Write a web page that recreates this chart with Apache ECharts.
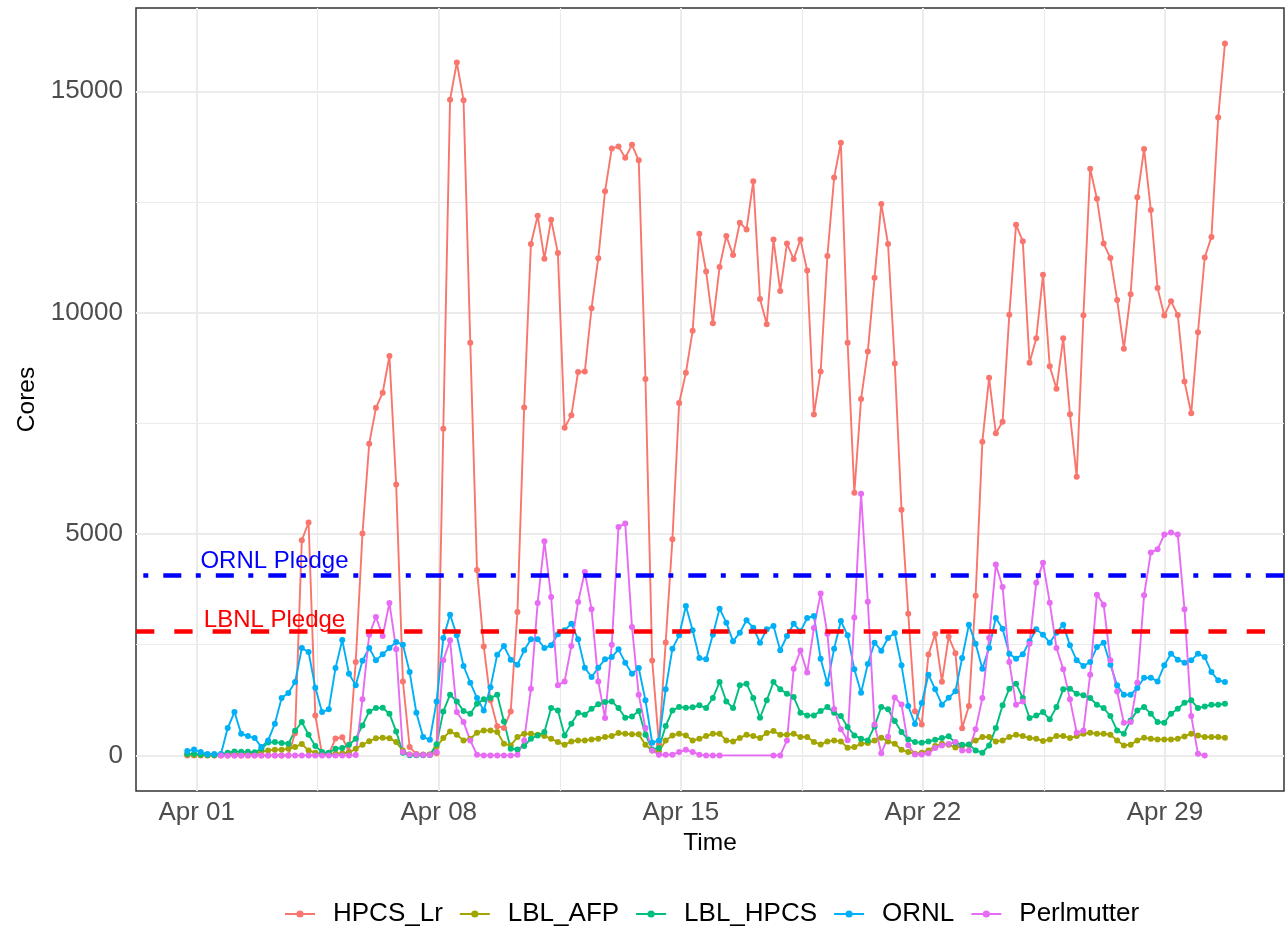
<!DOCTYPE html>
<html>
<head>
<meta charset="utf-8">
<script src="https://cdn.jsdelivr.net/npm/echarts@6/dist/echarts.min.js"></script>
<style>
html,body{margin:0;padding:0;background:#fff;}
#chart{width:1286px;height:927px;}
</style>
</head>
<body>
<div id="chart"></div>
<script>
// ---- time grid (days since Apr 01 00:00) ----
const startDay = -0.272;
const stepDay = 0.19485;

// ---- tick labels ----
const xTickDays = [0, 7, 14, 21, 28];
const xTickLabels = ['Apr 01', 'Apr 08', 'Apr 15', 'Apr 22', 'Apr 29'];
const yTicks = [0, 5000, 10000, 15000];
const xMinorDays = [3.5, 10.5, 17.5, 24.5];
const yMinor = [2500, 7500, 12500];

// ---- pledges ----
const ornlPledge = 4080;
const lbnlPledge = 2800;

// ---- series values ----
const HPCS_Lr = [0,0,0,0,0,0,0,0,0,0,0,0,0,0,0,0,
500,4860,5260,904,30,30,380,410,80,2110,5010,7040,7850,8190,9020,6120,1670,190,30,20,20,50,
7380,14810,15650,14800,9320,4190,2460,1245,660,620,994,3240,7860,11550,12190,11220,12100,11350,
7400,7680,8660,8670,10100,11230,12740,13710,13750,13500,13790,13440,8500,2145,250,2550,4880,
7960,8640,9590,11780,10930,9760,11030,11730,11300,12030,11880,12970,10310,9740,11650,10490,
11560,11210,11650,10950,7700,8670,11280,13050,13840,9320,5930,8050,9125,10790,12455,11550,
8850,5550,3200,1000,700,2280,2740,1665,2680,2310,616,1114,3605,7087,8529,7276,7534,9950,
11988,11610,8866,9423,10854,8787,8280,9423,7703,6292,9940,13250,12574,11560,11232,10288,
9185,10417,12604,13697,12320,10556,9935,10259,9947,8443,7727,9557,11245,11711,14408,16080];

const LBL_AFP = [20,10,10,5,5,10,20,30,30,40,40,80,110,130,130,150,190,256,113,60,30,30,40,50,60,
150,240,320,385,400,390,300,110,20,15,15,20,200,392,542,467,339,377,512,565,565,527,264,226,
414,490,490,467,437,377,301,241,316,339,339,362,377,414,437,505,490,475,475,241,113,90,339,
452,490,452,339,377,437,490,490,339,316,392,467,437,392,505,550,467,467,490,414,414,301,249,
316,339,316,173,188,264,279,339,400,316,264,128,75,38,60,113,211,264,241,180,211,241,339,414,
414,316,339,414,467,437,392,377,324,362,437,437,392,437,490,512,490,490,467,339,226,241,339,
400,377,362,362,362,377,429,490,452,414,414,414,400];

const LBL_HPCS = [30,40,20,10,10,20,60,90,80,80,70,150,290,300,280,264,557,753,467,211,75,60,151,
166,241,377,678,994,1070,1077,942,542,60,5,5,5,10,250,994,1371,1220,1002,942,1168,1266,1296,
1371,768,151,136,211,377,452,527,1070,1017,452,716,964,919,1055,1153,1205,1220,1070,851,881,
1002,467,136,166,663,1017,1092,1077,1085,1130,1070,1296,1657,1220,1070,1582,1620,1296,851,
1243,1657,1492,1394,1318,964,904,904,1002,1092,964,889,640,452,377,339,655,1092,1040,776,527,
362,301,286,316,354,392,430,286,241,249,113,60,226,618,1130,1507,1620,1296,844,904,979,814,
1092,1492,1507,1394,1356,1296,1145,1070,889,565,490,791,1017,1092,942,753,738,942,1055,1190,
1243,1070,1107,1145,1145,1168];

const ORNL = [98,135,75,30,30,30,618,979,490,437,392,188,339,716,1296,1409,1657,2426,2335,1529,
979,1040,1974,2606,1846,1582,2139,2426,2147,2283,2426,2561,2501,1883,964,414,354,1220,2650,
3179,2712,2019,1642,1296,1017,1537,2275,2471,2162,2049,2373,2621,2621,2426,2486,2734,2825,
2975,2621,1981,1770,1981,2170,2222,2396,2094,1846,1974,1243,286,339,1492,2411,2712,3375,2825,
2200,2170,2727,3315,2998,2576,2772,3051,2885,2546,2847,2923,2373,2697,2975,2802,3104,3149,
2185,1620,2411,3036,2712,1944,1416,2064,2546,2365,2652,2765,2034,1115,708,1183,1823,1492,1145,
1300,1450,2200,2953,2524,1959,2426,3104,2863,2298,2185,2283,2576,2848,2727,2546,2772,2953,
2486,2147,2019,2109,2448,2546,2049,1582,1371,1371,1522,1755,1755,1672,2034,2298,2162,2094,
2147,2298,2222,1883,1695,1657];

const Perlmutter = [null,null,null,null,null,0,0,0,0,0,0,0,0,0,0,0,0,0,0,0,0,0,0,0,0,10,1266,2727,
3126,2697,3443,2396,75,20,15,10,10,75,2147,2599,979,753,339,15,0,0,0,0,0,15,339,1507,3443,4836,
3578,1582,1672,2471,3465,4143,3299,1672,844,2501,5160,5235,2900,1371,618,113,15,15,15,75,128,
75,15,0,0,0,null,null,null,null,null,null,null,0,0,339,1955,2370,1870,2880,3655,2750,1050,590,
345,3115,5910,3470,696,50,420,1305,1150,230,20,20,50,169,226,260,300,113,113,588,1296,2652,
4309,3804,2109,1145,1220,2524,3902,4354,3450,2426,1944,1266,512,565,1823,3631,3405,2147,1446,
738,753,1642,3616,4580,4655,4987,5032,4987,3299,889,38,0,null,null,null];

const seriesNames = ['HPCS_Lr', 'LBL_AFP', 'LBL_HPCS', 'ORNL', 'Perlmutter'];
const seriesValues = [HPCS_Lr, LBL_AFP, LBL_HPCS, ORNL, Perlmutter];
const seriesColors = ['#F8766D', '#A3A500', '#00BF7D', '#00B0F6', '#E76BF3'];

const times = HPCS_Lr.map((_, i) => +(startDay + i * stepDay).toFixed(5));

const FONT = '"Liberation Sans", Arial, Helvetica, sans-serif';

function dayLabel(v) {
  const idx = xTickDays.indexOf(Math.round(v));
  return idx >= 0 ? xTickLabels[idx] : '';
}

const dataSeries = seriesNames.map((name, k) => ({
  name: name,
  type: 'line',
  data: times.map((t, i) => [t, seriesValues[k][i]]),
  connectNulls: true,
  symbol: 'circle',
  symbolSize: 6,
  showAllSymbol: true,
  color: seriesColors[k],
  lineStyle: { width: 1.9, color: seriesColors[k] },
  itemStyle: { color: seriesColors[k] },
  emphasis: { disabled: true },
  animation: false,
  z: 2
}));

const gridLineSeries = {
  name: '_grid',
  type: 'line',
  data: [],
  silent: true,
  z: 1,
  markLine: {
    silent: true,
    symbol: 'none',
    animation: false,
    z: 1,
    label: { show: false },
    emphasis: { disabled: true },
    data: [
      ...xMinorDays.map(v => ({ xAxis: v, lineStyle: { color: '#EBEBEB', width: 1.2, type: 'solid' } })),
      ...yMinor.map(v => ({ yAxis: v, lineStyle: { color: '#EBEBEB', width: 1.2, type: 'solid' } })),
      ...xTickDays.map(v => ({ xAxis: v, lineStyle: { color: '#EBEBEB', width: 2, type: 'solid' } })),
      ...yTicks.map(v => ({ yAxis: v, lineStyle: { color: '#EBEBEB', width: 2, type: 'solid' } }))
    ]
  }
};

const pledgeSeries = {
  name: '_pledge',
  type: 'line',
  data: [],
  silent: true,
  z: 5,
  markLine: {
    silent: true,
    symbol: 'none',
    animation: false,
    z: 5,
    label: { show: false },
    emphasis: { disabled: true },
    data: [
      { yAxis: ornlPledge, lineStyle: { color: '#0000FF', width: 4.7, type: [5, 15, 18, 14.5], dashOffset: 45.2, cap: 'butt' } },
      { yAxis: lbnlPledge, lineStyle: { color: '#FF0000', width: 4.7, type: [18.3, 20], dashOffset: 0, cap: 'butt' } }
    ]
  },
  markPoint: {
    silent: true,
    animation: false,
    z: 6,
    symbol: 'circle',
    symbolSize: 0,
    data: [
      { coord: [2.25, 4380], label: { show: true, position: 'inside', formatter: 'ORNL Pledge', color: '#0000FF', fontSize: 24, fontFamily: FONT } },
      { coord: [2.25, 3060], label: { show: true, position: 'inside', formatter: 'LBNL Pledge', color: '#FF0000', fontSize: 24, fontFamily: FONT } }
    ]
  }
};

const option = {
  backgroundColor: '#ffffff',
  animation: false,
  textStyle: { fontFamily: FONT },
  grid: {
    left: 136, right: 2, top: 8, bottom: 136,
    show: true, borderColor: '#333333', borderWidth: 1.5, backgroundColor: '#ffffff'
  },
  legend: {
    data: seriesNames,
    left: 279,
    top: 896,
    itemWidth: 30,
    itemHeight: 9,
    itemGap: 16,
    textStyle: { fontSize: 26, color: '#000', fontFamily: FONT, padding: [0, 0, 0, 13] },
    selectedMode: false
  },
  xAxis: {
    type: 'value',
    min: -1.755,
    max: 31.443,
    name: 'Time',
    nameLocation: 'middle',
    nameGap: 40,
    nameTextStyle: { fontSize: 24.5, color: '#000', fontFamily: FONT },
    axisLine: { show: false },
    axisTick: { show: true, length: 7, customValues: xTickDays, lineStyle: { color: '#333333', width: 1.5 } },
    axisLabel: { customValues: xTickDays, formatter: dayLabel, color: '#4D4D4D', fontSize: 26, margin: 9, fontFamily: FONT },
    splitLine: { show: false }
  },
  yAxis: {
    type: 'value',
    min: -804,
    max: 16881,
    name: 'Cores',
    nameLocation: 'middle',
    nameRotate: 90,
    nameGap: 72,
    nameTextStyle: { fontSize: 24.5, color: '#000', fontFamily: FONT },
    axisLine: { show: false },
    axisTick: { show: true, length: 7, customValues: yTicks, lineStyle: { color: '#333333', width: 1.5 } },
    axisLabel: { customValues: yTicks, formatter: v => String(v), color: '#4D4D4D', fontSize: 26, margin: 13, fontFamily: FONT },
    splitLine: { show: false }
  },
  series: [gridLineSeries, ...dataSeries, pledgeSeries]
};

const chart = echarts.init(document.getElementById('chart'), null, { renderer: 'canvas' });
chart.setOption(option);
</script>
</body>
</html>
